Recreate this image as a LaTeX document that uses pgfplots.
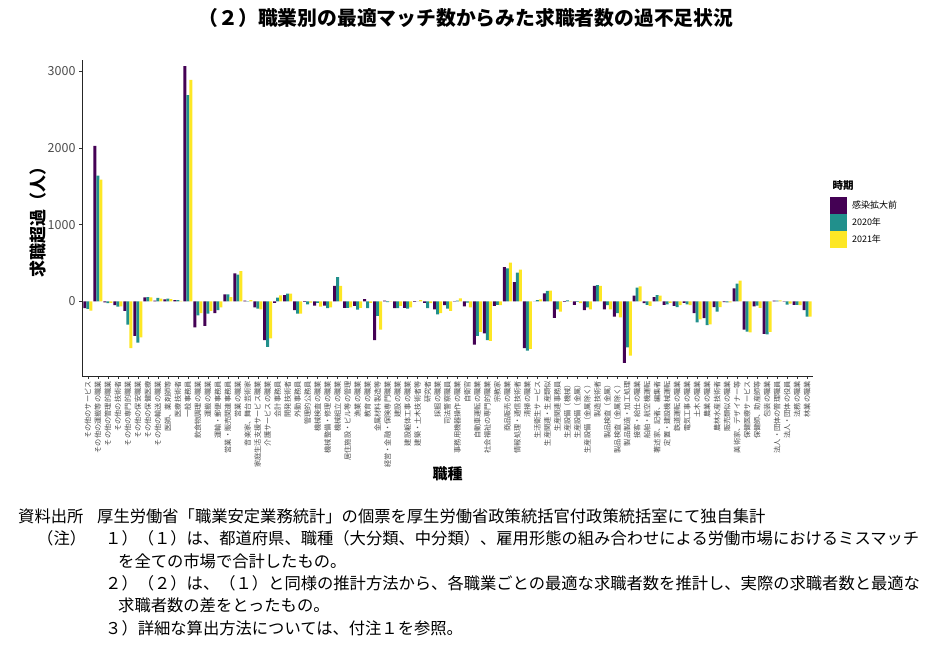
\documentclass[border=0pt]{standalone}
\usepackage{fontspec}
\setmainfont{Noto Sans CJK JP}
\usepackage{pgfplots}
\pgfplotsset{compat=1.18}
\usepackage{pgfplotstable}
\definecolor{vpur}{HTML}{440154}
\definecolor{vtea}{HTML}{21908C}
\definecolor{vyel}{HTML}{FDE725}
\definecolor{g30}{HTML}{4D4D4D}

\pgfplotstableread{
k a b c
1 -90 -100 -120
2 2030 1640 1590
3 -15 -25 -20
4 -50 -70 -65
5 -125 -305 -610
6 -450 -540 -470
7 50 55 50
8 10 45 35
9 25 35 30
10 15 15 5
11 3070 2690 2890
12 -340 -185 -155
13 -320 -160 -125
14 -155 -115 -80
15 90 90 55
16 365 350 395
17 10 2 17
18 -80 -95 -105
19 -505 -595 -485
20 -20 48 78
21 80 100 100
22 -115 -160 -160
23 -8 -40 -17
24 -55 -20 -70
25 -55 -90 -80
26 200 315 200
27 -85 -85 -80
28 -60 -110 -85
29 30 -90 -20
30 -505 -190 -370
31 10 -10 -5
32 -90 -90 -60
33 -85 -95 -80
34 -8 0 15
35 -20 -90 -25
36 -105 -170 -155
37 -50 -95 -125
38 -5 10 40
39 -65 -17 -80
40 -565 -450 -400
41 -420 -505 -515
42 -60 -45 -50
43 445 430 505
44 250 375 415
45 -610 -645 -620
46 0 17 26
47 105 135 140
48 -215 -105 -135
49 -8 12 3
50 -45 -8 -25
51 -115 -80 -105
52 200 210 200
53 -105 -50 -105
54 -200 -155 -210
55 -805 -600 -710
56 75 180 195
57 -25 -48 -60
58 55 80 75
59 -45 -40 -20
60 -60 -75 -50
61 -20 -40 -50
62 -155 -275 -235
63 -220 -310 -300
64 -75 -135 -75
65 -10 -15 -15
66 170 230 270
67 -370 -395 -405
68 -65 -55 -85
69 -425 -430 -400
70 10 10 12
71 -5 -43 -30
72 -45 -45 -50
73 -115 -200 -200
}\datatable

\begin{document}
\begin{tikzpicture}
\path[use as bounding box] (0pt,0pt) rectangle (933pt,-649pt);
\node[font=\bfseries\fontsize{19.8}{21}\selectfont] at (466pt,-18pt) {（２）職業別の最適マッチ数からみた求職者数の過不足状況};
\begin{axis}[
  at={(82pt,-376pt)}, anchor=south west,
  width=731pt, height=316pt, scale only axis,
  xmin=0.4, xmax=73.6, ymin=-975, ymax=3150,
  axis x line*=bottom, axis y line*=left,
  axis line style={-, black!85, line width=0.6pt},
  tick align=outside, major tick length=3pt,
  tick style={black!80, line width=0.5pt},
  ybar=0pt, bar width=3pt,
  xtick={1,...,73},
  xticklabels={{その他のサービス},{その他の運搬等の職業},{その他の管理的職業},{その他の技術者},{その他の専門的職業},{その他の保安職業},{その他の保健医療},{その他の輸送の職業},{医師、薬剤師等},{医療技術者},{一般事務員},{飲食物調理の職業},{運搬の職業},{運輸・郵便事務員},{営業・販売関連事務員},{営業の職業},{音楽家、舞台芸術家},{家庭生活支援サービス職業},{介護サービスの職業},{会計事務員},{開発技術者},{外勤事務員},{管理的公務員},{機械検査の職業},{機械整備・修理の職業},{機械組立の職業},{居住施設・ビル等の管理},{漁業の職業},{教育の職業},{金属材料製造等},{経営・金融・保険専門職業},{建設の職業},{建設躯体工事の職業},{建築・土木技術者等},{研究者},{採掘の職業},{司法警察職員},{事務用機器操作の職業},{自衛官},{自動車運転の職業},{社会福祉の専門的職業},{宗教家},{商品販売の職業},{情報処理・通信技術者},{清掃の職業},{生活衛生サービス},{生産関連・生産類似},{生産関連事務員},{生産設備（機械）},{生産設備（金属）},{生産設備（金属除く）},{製造技術者},{製品検査（金属）},{製品検査（金属除く）},{製品製造・加工処理},{接客・給仕の職業},{船舶・航空機運転},{著述家、記者、編集者},{定置・建設機械運転},{鉄道運転の職業},{電気工事の職業},{土木の職業},{農業の職業},{農林水産技術者},{販売類似の職業},{美術家、デザイナー等},{保健医療サービス},{保健師、助産師等},{包装の職業},{法人・団体の管理職員},{法人・団体の役員},{法務の職業},{林業の職業}},
  xticklabel style={rotate=90, anchor=east, font=\fontsize{7.2}{7.5}\selectfont, text=g30, inner sep=2pt},
  ytick={0,1000,2000,3000},
  yticklabel style={font=\fontsize{12.5}{13}\selectfont, text=g30},
  /pgf/number format/assume math mode=true,
  /pgf/number format/1000 sep={},
  xlabel={職種},
  xlabel style={at={(axis description cs:0.5,-0.31)}, anchor=center, font=\bfseries\fontsize{15}{16}\selectfont},
  ylabel={求職超過（人）},
  ylabel style={at={(axis description cs:-0.0602,0.5)}, anchor=center, font=\bfseries\fontsize{17}{18}\selectfont},
  legend cell align=left,
  legend style={at={(1.023,0.566)}, anchor=north west, draw=none, fill=none, inner sep=0pt, row sep=0pt, font=\fontsize{9}{10}\selectfont, /tikz/every odd column/.append style={column sep=3pt}},
  legend image code/.code={\fill[#1] (0pt,-8.5pt) rectangle (17pt,8.5pt);},
]
\addplot[fill=vpur, draw=none] table[x=k, y=a] {\datatable};
\addplot[fill=vtea, draw=none] table[x=k, y=b] {\datatable};
\addplot[fill=vyel, draw=none] table[x=k, y=c] {\datatable};
\legend{感染拡大前, 2020年, 2021年}
\end{axis}
\node[anchor=west, font=\bfseries\fontsize{10.5}{11}\selectfont] at (829pt,-186pt) {時期};
\begin{scope}[every node/.style={anchor=west, font=\fontsize{16.3}{17}\selectfont, inner sep=0pt}]
\node at (18pt,-516pt) {資料出所};
\node at (97pt,-516pt) {厚生労働省「職業安定業務統計」の個票を厚生労働省政策統括官付政策統括室にて独自集計};
\node at (37pt,-538pt) {（注）};
\node at (105pt,-538pt) {１）（１）は、都道府県、職種（大分類、中分類）、雇用形態の組み合わせによる労働市場におけるミスマッチ};
\node at (118pt,-561pt) {を全ての市場で合計したもの。};
\node at (105pt,-583pt) {２）（２）は、（１）と同様の推計方法から、各職業ごとの最適な求職者数を推計し、実際の求職者数と最適な};
\node at (118pt,-605pt) {求職者数の差をとったもの。};
\node at (105pt,-628pt) {３）詳細な算出方法については、付注１を参照。};
\end{scope}
\end{tikzpicture}
\end{document}
